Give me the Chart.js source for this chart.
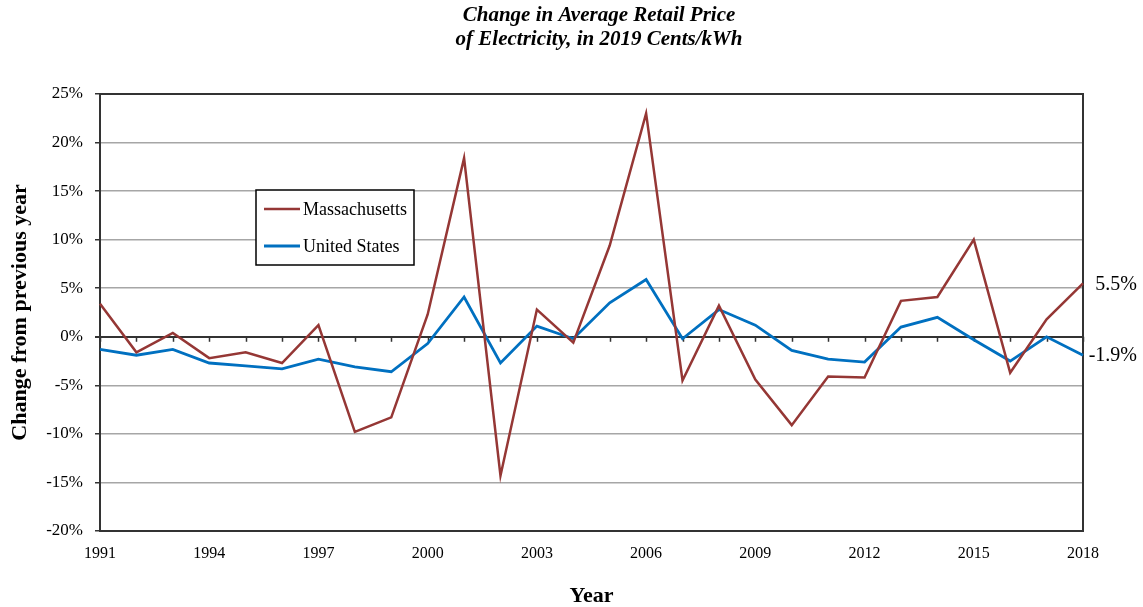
<!DOCTYPE html>
<html>
<head>
<meta charset="utf-8">
<script src="https://cdn.jsdelivr.net/npm/chart.js@4"></script>
<style>
  html, body { margin: 0; padding: 0; background: #fff; }
</style>
</head>
<body>
<canvas id="grafico" width="1143" height="607"></canvas>
<script>
// Datos del gráfico
const years = [1991, 1992, 1993, 1994, 1995, 1996, 1997, 1998, 1999, 2000,
    2001, 2002, 2003, 2004, 2005, 2006, 2007, 2008, 2009, 2010,
    2011, 2012, 2013, 2014, 2015, 2016, 2017, 2018];
const massachusetts = [3.4, -1.6, 0.4, -2.2, -1.6, -2.7, 1.2, -9.8, -8.3, 2.3,
    18.4, -14.3, 2.8, -0.6, 9.4, 23.0, -4.5, 3.2, -4.4, -9.1,
    -4.1, -4.2, 3.7, 4.1, 10.0, -3.7, 1.8, 5.5];
const unitedStates = [-1.3, -1.9, -1.3, -2.7, -3.0, -3.3, -2.3, -3.1, -3.6, -0.7,
    4.1, -2.7, 1.1, -0.2, 3.5, 5.9, -0.2, 2.8, 1.2, -1.4,
    -2.3, -2.6, 1.0, 2.0, -0.3, -2.5, 0.0, -1.9];
const yearTickLabels = [1991, 1994, 1997, 2000, 2003, 2006, 2009, 2012, 2015, 2018];
const yMin = -20, yMax = 25, yStep = 5;
const titleLines = ["Change in Average Retail Price", "of Electricity, in 2019 Cents/kWh"];

const serif = "'Liberation Serif', 'Times New Roman', serif";
Chart.defaults.font.family = serif;
Chart.defaults.color = "#000";

// Título dibujado a mano (centrado sobre el área del gráfico)
const tituloPlugin = {
    id: "titulo",
    afterDraw(chart) {
        const c = chart.ctx;
        c.save();
        c.font = "bold italic 21px " + serif;
        c.fillStyle = "#000";
        c.textAlign = "center";
        c.textBaseline = "middle";
        titleLines.forEach((t, i) => c.fillText(t, 599, 16 + i * 24));
        c.restore();
    }
};

// Marco, marcas en la línea de cero
const marcoPlugin = {
    id: "marco",
    beforeDatasetsDraw(chart) {
        const c = chart.ctx;
        const a = chart.chartArea;
        const xs = chart.scales.x;
        const y0 = chart.scales.y.getPixelForValue(0);
        c.save();
        c.strokeStyle = "#333";
        c.lineWidth = 1.5;
        for (let i = 0; i < xs.ticks.length; i++) {
            const x = Math.round(xs.getPixelForTick(i)) + 0.5;
            c.beginPath();
            c.moveTo(x, y0);
            c.lineTo(x, y0 + 5);
            c.stroke();
        }
        c.lineWidth = 2;
        c.strokeRect(a.left, a.top, a.right - a.left, a.bottom - a.top);
        c.restore();
    }
};

// Leyenda dentro del gráfico y etiquetas del último valor
const leyendaPlugin = {
    id: "leyenda",
    afterDraw(chart) {
        const c = chart.ctx;
        const a = chart.chartArea;
        const bx = a.left + 156, by = a.top + 96, bw = 158, bh = 75;
        c.save();
        c.fillStyle = "#fff";
        c.fillRect(bx, by, bw, bh);
        c.strokeStyle = "#000";
        c.lineWidth = 1.5;
        c.strokeRect(bx, by, bw, bh);
        c.font = "18px " + serif;
        c.textBaseline = "middle";
        chart.data.datasets.forEach((ds, i) => {
            const y = by + 19 + i * 37;
            c.strokeStyle = ds.borderColor;
            c.lineWidth = ds.borderWidth;
            c.beginPath();
            c.moveTo(bx + 8, y);
            c.lineTo(bx + 44, y);
            c.stroke();
            c.fillStyle = "#000";
            c.fillText(ds.label, bx + 47, y + 1);
        });

        // Valor de 2018 a la derecha
        c.font = "20px " + serif;
        c.textAlign = "right";
        chart.data.datasets.forEach((ds, i) => {
            const meta = chart.getDatasetMeta(i);
            const last = meta.data[meta.data.length - 1];
            const v = ds.data[ds.data.length - 1];
            c.fillText(v.toFixed(1) + "%", a.right + 54, last.y + 1);
        });
        c.restore();
    }
};

const ctx = document.getElementById("grafico").getContext("2d");
const grafico = new Chart(ctx, {
    type: "line",
    data: {
        labels: years.map(String),
        datasets: [
            {
                label: "Massachusetts",
                data: massachusetts,
                borderColor: "#953735",
                borderWidth: 2.5,
                pointRadius: 0,
                tension: 0,
                fill: false
            },
            {
                label: "United States",
                data: unitedStates,
                borderColor: "#0070C0",
                borderWidth: 2.8,
                pointRadius: 0,
                tension: 0,
                fill: false
            }
        ]
    },
    options: {
        responsive: false,
        animation: false,
        layout: { padding: { top: 94, right: 60, left: 0, bottom: 0 } },
        plugins: {
            legend: { display: false },
            title: { display: false },
            tooltip: { enabled: false }
        },
        scales: {
            x: {
                type: "category",
                offset: false,
                grid: { display: false, drawTicks: false },
                border: { display: true, color: "#333", width: 2 },
                ticks: {
                    autoSkip: false,
                    maxRotation: 0,
                    padding: 13,
                    font: { size: 16 },
                    callback: function (value, index) {
                        return yearTickLabels.includes(years[index]) ? String(years[index]) : "";
                    }
                },
                title: {
                    display: true,
                    text: "Year",
                    font: { size: 22, weight: "bold", lineHeight: 1 },
                    padding: { top: 0, bottom: 0 }
                },
                afterFit: function (scale) { scale.height = 76; }
            },
            y: {
                min: yMin,
                max: yMax,
                ticks: {
                    stepSize: yStep,
                    padding: 12,
                    font: { size: 17 },
                    callback: (v) => v + "%"
                },
                grid: {
                    color: (c) => (c.tick && c.tick.value === 0 ? "#333" : "#a6a6a6"),
                    lineWidth: (c) => (c.tick && c.tick.value === 0 ? 2 : 1.5),
                    tickColor: "#333",
                    tickLength: 5
                },
                border: { display: true, color: "#333", width: 2 },
                title: {
                    display: true,
                    text: "Change from previous year",
                    font: { size: 22, weight: "bold" },
                    padding: { top: 7, bottom: 0 }
                },
                afterFit: function (scale) { scale.width = 100; }
            }
        }
    },
    plugins: [tituloPlugin, marcoPlugin, leyendaPlugin]
});
</script>
</body>
</html>
